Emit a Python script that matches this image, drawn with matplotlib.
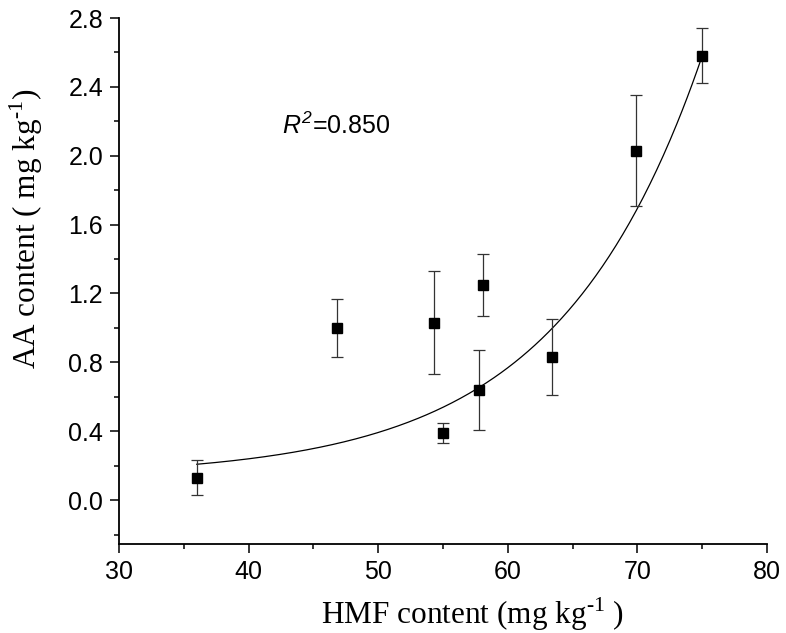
import numpy as np
import matplotlib
matplotlib.use("Agg")
import matplotlib.pyplot as plt
from matplotlib.ticker import MultipleLocator, FormatStrFormatter

# Data
hmf = [36.0, 46.8, 54.3, 55.0, 57.8, 58.1, 63.4, 69.9, 75.0]
aa = [0.13, 1.00, 1.03, 0.39, 0.64, 1.25, 0.83, 2.03, 2.58]
aa_err = [0.10, 0.17, 0.30, 0.06, 0.23, 0.18, 0.22, 0.32, 0.16]

# Exponential fit y = y0 + A*exp(k*(x - xref)), parameters
fit_y0 = 0.135
fit_A = 2.445
fit_k = 0.09
fit_xref = 75.0
fit_range = [36.0, 75.0]
r2_text = "0.850"

plt.rcParams['mathtext.fontset'] = 'custom'
plt.rcParams['mathtext.rm'] = 'Liberation Serif'
plt.rcParams['mathtext.it'] = 'Liberation Sans:italic'
plt.rcParams['mathtext.sf'] = 'Liberation Sans:italic'

fig = plt.figure(figsize=(7.86, 6.33), dpi=100)
ax = fig.add_axes([119/786, 1-544/633, 648/786, 526/633])

xf = np.linspace(fit_range[0], fit_range[1], 300)
yf = fit_y0 + fit_A*np.exp(fit_k*(xf - fit_xref))
ax.plot(xf, yf, color='black', lw=0.9, zorder=2)

ax.errorbar(hmf, aa, yerr=aa_err, fmt='s', color='black', ms=7.8,
            ecolor='#333333', elinewidth=0.9, capsize=4, capthick=0.9, zorder=3)

ax.set_xlim(30, 80)
ax.set_ylim(-0.255, 2.8)
ax.xaxis.set_major_locator(MultipleLocator(10))
ax.xaxis.set_minor_locator(MultipleLocator(5))
ax.yaxis.set_major_locator(MultipleLocator(0.4))
ax.yaxis.set_minor_locator(MultipleLocator(0.2))
ax.yaxis.set_major_formatter(FormatStrFormatter('%.1f'))

for s in ['top', 'right']:
    ax.spines[s].set_visible(False)
for s in ['left', 'bottom']:
    ax.spines[s].set_linewidth(1.3)
ax.tick_params(which='major', direction='out', length=6.5, width=1.1,
               labelsize=18, pad=5)
ax.tick_params(which='minor', direction='out', length=3.6, width=1.1)
for lab in ax.get_xticklabels() + ax.get_yticklabels():
    lab.set_fontfamily('Liberation Sans')

sup = '$^{\u2010\\mathrm{1}}$'
fig.text(473/786, 1-614/633, 'HMF content (mg kg' + sup + ' )',
         ha='center', va='center', fontsize=22.5, family='Liberation Serif')
fig.text(26/786, 1-229/633, 'AA content ( mg kg' + sup + ')',
         ha='center', va='center', rotation=90, fontsize=22.5,
         family='Liberation Serif')

ax.text(0.252, 0.795, r'$R^{\mathsf{2}}$=' + r2_text, transform=ax.transAxes,
        fontsize=18, family='Liberation Sans', ha='left', va='center')

fig.savefig('out.png', dpi=100)
